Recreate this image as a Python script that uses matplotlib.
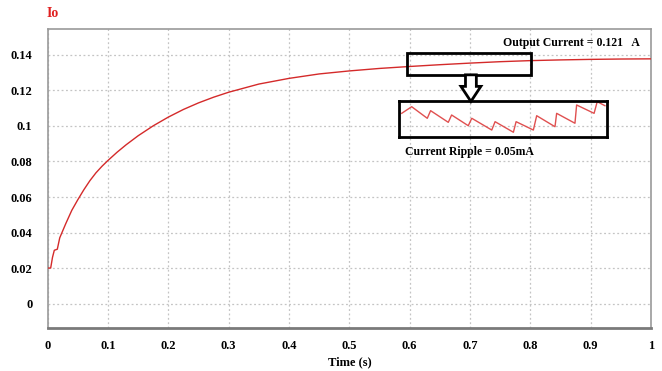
import matplotlib
matplotlib.use("Agg")
import matplotlib.pyplot as plt
from matplotlib.patches import Rectangle, FancyArrow

plt.rcParams['font.family'] = ['Liberation Serif', 'DejaVu Serif']
plt.rcParams['font.weight'] = 'bold'

# Main output current curve (time in s, current in A)
time_s = [0.0, 0.005, 0.008, 0.011, 0.016, 0.020, 0.025, 0.030, 0.040, 0.050,
          0.060, 0.070, 0.080, 0.090, 0.100, 0.115, 0.130, 0.150, 0.175, 0.200,
          0.225, 0.250, 0.275, 0.300, 0.350, 0.400, 0.450, 0.500, 0.550, 0.600,
          0.650, 0.700, 0.750, 0.800, 0.850, 0.900, 0.950, 1.000]
current_a = [0.0200, 0.0200, 0.0260, 0.0300, 0.0306, 0.0370, 0.0410, 0.0450, 0.0525, 0.0585,
             0.0641, 0.0692, 0.0736, 0.0773, 0.0806, 0.0852, 0.0894, 0.0945, 0.1001, 0.1050,
             0.1093, 0.1130, 0.1162, 0.1190, 0.1236, 0.1268, 0.1293, 0.1310, 0.1324, 0.1335,
             0.1345, 0.1354, 0.1362, 0.1368, 0.1372, 0.1375, 0.1377, 0.1378]

# Zoomed ripple (relative time units, ripple in mA)
ripple_t = [0.13, 0.61, 1.36, 1.52, 2.37, 2.53, 3.33, 3.50, 4.46, 4.62, 5.50,
            5.63, 6.46, 6.62, 7.50, 7.58, 8.46, 8.54, 9.38, 9.53, 9.90]
ripple_ma = [0.0329, 0.0421, 0.0260, 0.0366, 0.0204, 0.0306, 0.0157, 0.0260, 0.0097, 0.0213, 0.0066,
             0.0213, 0.0097, 0.0296, 0.0143, 0.0329, 0.0191, 0.0445, 0.0329, 0.0491, 0.0435]

xticks = [0, 0.1, 0.2, 0.3, 0.4, 0.5, 0.6, 0.7, 0.8, 0.9, 1]
xticklabels = ['0', '0.1', '0.2', '0.3', '0.4', '0.5', '0.6', '0.7', '0.8', '0.9', '1']
yticks = [0, 0.02, 0.04, 0.06, 0.08, 0.1, 0.12, 0.14]
yticklabels = ['0', '0.02', '0.04', '0.06', '0.08', '0.1', '0.12', '0.14']

fig = plt.figure(figsize=(6.62, 3.71), dpi=100)
ax = fig.add_axes([0.072, 0.1167, 0.9114, 0.8051])

ax.plot(time_s, current_a, color='#d42a2a', lw=1.0, zorder=3)

ax.set_xlim(0, 1)
ax.set_ylim(-0.0136, 0.1546)
ax.set_xticks(xticks)
ax.set_xticklabels(xticklabels)
ax.set_yticks(yticks)
ax.set_yticklabels(yticklabels)
ax.tick_params(length=0, labelsize=9)
ax.tick_params(axis='y', pad=11)
ax.tick_params(axis='x', pad=9)
for lab in ax.get_xticklabels() + ax.get_yticklabels():
    lab.set_fontweight('bold')
ax.grid(True, linestyle=(0, (1.5, 2)), color='#c4c4c4', lw=0.9)
ax.set_axisbelow(True)

for side in ['top', 'right', 'left']:
    ax.spines[side].set_color('#9a9a9a')
    ax.spines[side].set_linewidth(1.2)
ax.spines['bottom'].set_color('#7a7a7a')
ax.spines['bottom'].set_linewidth(2.0)

ax.set_xlabel('Time (s)', fontsize=9, fontweight='bold', labelpad=3)
fig.text(0.071, 0.963, 'Io', color='#e02020', fontsize=10, fontweight='bold',
         ha='left', va='center')

# Upper highlight box on the curve
ax.add_patch(Rectangle((0.595, 0.1288), 0.206, 0.0125, fill=False,
                       edgecolor='black', lw=2, zorder=4))
# Hollow down arrow
ax.add_patch(FancyArrow(0.7015, 0.1288, 0, -0.0150, width=0.018, head_width=0.033,
                        head_length=0.0085, length_includes_head=True,
                        facecolor='white', edgecolor='black', lw=2, zorder=5))

ax.text(0.754, 0.1468, 'Output Current = 0.121   A', fontsize=8.5,
        fontweight='bold', ha='left', va='center', zorder=6)
ax.text(0.592, 0.0851, 'Current Ripple = 0.05mA', fontsize=8.5,
        fontweight='bold', ha='left', va='center', zorder=6)

# Ripple inset
ins = fig.add_axes([0.6027, 0.6307, 0.3142, 0.097])
ins.patch.set_alpha(0)
ins.plot(ripple_t, ripple_ma, color='#e05050', lw=1.0)
ins.set_xlim(0, 10)
ins.set_ylim(0, 0.05)
ins.set_xticks([])
ins.set_yticks([])
for s in ins.spines.values():
    s.set_color('black')
    s.set_linewidth(2)

fig.savefig('out.png', dpi=100)
